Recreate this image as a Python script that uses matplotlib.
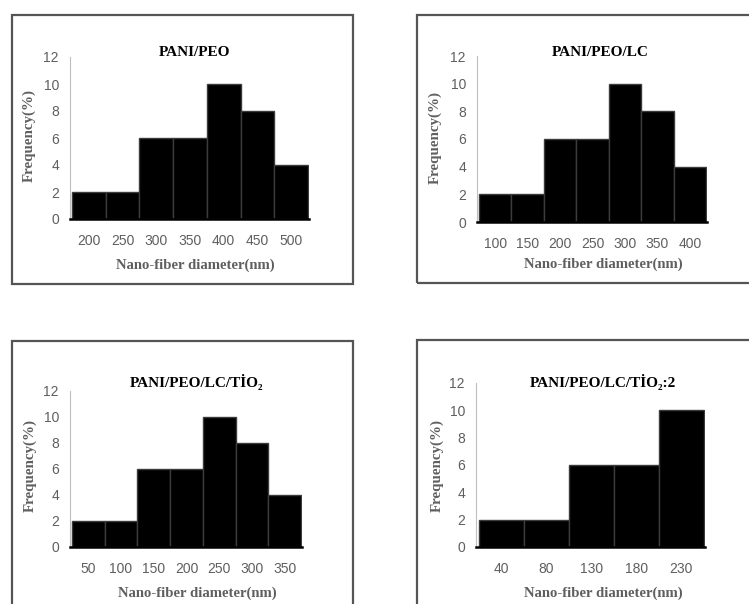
import numpy as np
import matplotlib.pyplot as plt
from matplotlib.patches import Rectangle

W, H = 749, 604

# data
titles = ['PANI/PEO', 'PANI/PEO/LC', 'PANI/PEO/LC/TİO₂', 'PANI/PEO/LC/TİO₂:2']
diam_1 = ['200', '250', '300', '350', '400', '450', '500']
freq_1 = [2, 2, 6, 6, 10, 8, 4]
diam_2 = ['100', '150', '200', '250', '300', '350', '400']
freq_2 = [2, 2, 6, 6, 10, 8, 4]
diam_3 = ['50', '100', '150', '200', '250', '300', '350']
freq_3 = [2, 2, 6, 6, 10, 8, 4]
diam_4 = ['40', '80', '130', '180', '230']
freq_4 = [2, 2, 6, 6, 10]
y_ticks = [0, 2, 4, 6, 8, 10, 12]

# pixel layout: (left, right, top, bottom) of plot area and of outer box
axes_px = [(70, 309, 57, 219), (477, 707, 56, 222), (70, 302, 391, 547), (476, 705, 383, 547)]
box_px = [(12, 353, 15, 284), (417, 760, 15, 283), (12, 353, 341, 620), (417, 760, 340, 620)]
# centres of title, x label and y label in pixels
title_px = [(195, 52), (600, 52), (197, 382), (603, 382)]
xlab_px = [(195, 265), (603, 264), (197, 593), (603, 593)]
ylab_px = [(29, 135), (435, 137), (30, 465), (437, 466)]
xpad = [11, 10.5, 10.5, 10.5]

serif = ['Liberation Serif', 'DejaVu Serif']
grey = '#5f5f5f'

def fx(x):
    return x / W

def fy(y):
    return 1 - y / H

fig = plt.figure(figsize=(W / 100, H / 100), dpi=100)
fig.patch.set_facecolor('white')

for (l, r, t, b) in box_px:
    fig.patches.append(Rectangle((fx(l), fy(b)), fx(r - l), (b - t) / H, transform=fig.transFigure,
                                 fill=False, edgecolor='#555555', linewidth=1.6))

data = [(diam_1, freq_1), (diam_2, freq_2), (diam_3, freq_3), (diam_4, freq_4)]
for i, (cats, vals) in enumerate(data):
    l, r, t, b = axes_px[i]
    ax = fig.add_axes([fx(l), fy(b), fx(r - l), (b - t) / H])
    x = np.arange(len(cats))
    ax.bar(x, vals, width=1.0, color='black', edgecolor='#3c3c3c', linewidth=1.0)
    ax.set_xlim(-0.56, len(cats) - 0.47)
    ax.set_ylim(0, 12)
    ax.set_yticks(y_ticks)
    ax.set_xticks(x)
    ax.set_xticklabels(cats)
    ax.tick_params(axis='both', length=0, labelsize=10, labelcolor=grey)
    ax.tick_params(axis='y', pad=8)
    ax.tick_params(axis='x', pad=xpad[i])
    for lab in ax.get_xticklabels() + ax.get_yticklabels():
        lab.set_family('Liberation Sans')
    for s in ['top', 'right']:
        ax.spines[s].set_visible(False)
    ax.spines['left'].set_color('#bfbfbf')
    ax.spines['left'].set_linewidth(0.8)
    ax.spines['bottom'].set_color('black')
    ax.spines['bottom'].set_linewidth(1.8)
    ax.set_facecolor('none')

    tx, ty = title_px[i]
    fig.text(fx(tx), fy(ty), titles[i], ha='center', va='center',
             fontsize=11, fontweight='bold', family=serif, color='black')

    ax.set_xlabel('Nano-fiber diameter(nm)', fontsize=10.6, fontweight='bold', family=serif, color=grey)
    xx, xy = xlab_px[i]
    ax.xaxis.set_label_coords((xx - l) / (r - l), (b - xy) / (b - t))
    ax.xaxis.label.set_va('center')

    ax.set_ylabel('Frequency(%)', fontsize=10.8, fontweight='bold', family=serif, color=grey)
    yx, yy = ylab_px[i]
    ax.yaxis.set_label_coords((yx - l) / (r - l), (b - yy) / (b - t))
    ax.yaxis.label.set_va('center')

fig.savefig('out.png', dpi=100)
